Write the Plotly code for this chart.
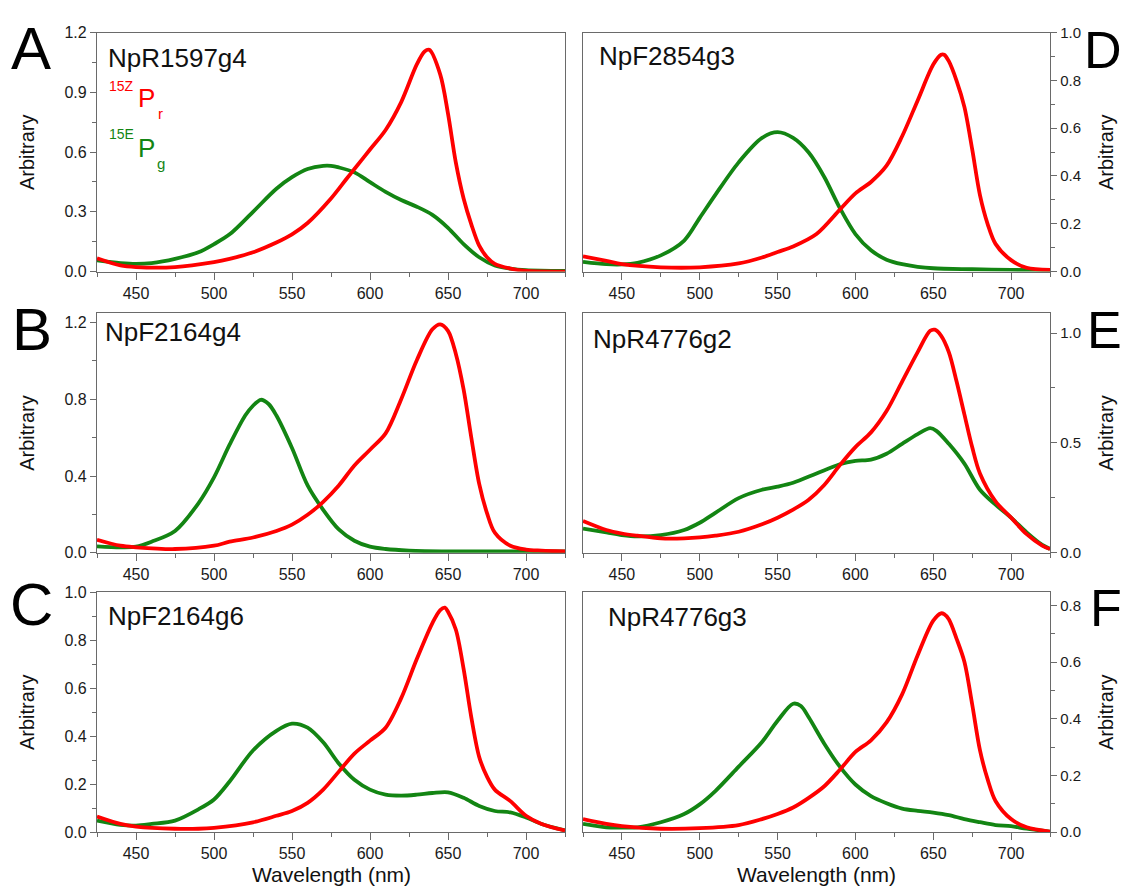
import plotly.graph_objects as go

W, H = 1123, 896
FONT = "Liberation Sans, Arial, sans-serif"
RED = "#ff0000"
GREEN = "#138513"
AXC = "#6a6a6a"

# ---------------- data ----------------
panel_names = ["NpR1597g4", "NpF2164g4", "NpF2164g6", "NpF2854g3", "NpR4776g2", "NpR4776g3"]
panel_letters = ["A", "B", "C", "D", "E", "F"]

# Panel A  NpR1597g4
A_red_x = [425, 440, 450, 475, 500, 510, 525, 540, 550, 560, 575, 585, 590, 600, 610, 620, 630, 635, 638, 645, 650, 655, 660, 665, 670, 675, 680, 690, 700, 725]
A_red_y = [0.067, 0.031, 0.023, 0.023, 0.048, 0.064, 0.097, 0.146, 0.187, 0.244, 0.367, 0.466, 0.515, 0.613, 0.711, 0.851, 1.04, 1.105, 1.113, 0.99, 0.793, 0.548, 0.367, 0.236, 0.13, 0.072, 0.039, 0.015, 0.003, 0.0]
A_grn_x = [425, 440, 450, 460, 475, 490, 500, 510, 525, 540, 550, 560, 570, 575, 580, 590, 600, 610, 620, 630, 640, 650, 660, 670, 680, 690, 700, 725]
A_grn_y = [0.056, 0.043, 0.039, 0.043, 0.064, 0.097, 0.138, 0.187, 0.30, 0.416, 0.474, 0.515, 0.531, 0.531, 0.523, 0.498, 0.449, 0.40, 0.359, 0.326, 0.285, 0.22, 0.138, 0.072, 0.031, 0.015, 0.007, 0.003]

# Panel B  NpF2164g4
B_red_x = [425, 440, 450, 475, 500, 510, 525, 540, 550, 560, 570, 580, 590, 600, 610, 620, 630, 640, 645, 650, 655, 660, 665, 670, 675, 680, 690, 700, 710, 725]
B_red_y = [0.068, 0.037, 0.029, 0.02, 0.037, 0.058, 0.08, 0.114, 0.147, 0.198, 0.266, 0.351, 0.455, 0.537, 0.622, 0.80, 1.003, 1.164, 1.19, 1.156, 1.037, 0.851, 0.597, 0.359, 0.207, 0.105, 0.037, 0.017, 0.012, 0.008]
B_grn_x = [425, 440, 450, 460, 475, 490, 500, 510, 520, 525, 530, 535, 540, 550, 560, 570, 580, 590, 600, 610, 625, 650, 700, 725]
B_grn_y = [0.034, 0.029, 0.032, 0.058, 0.114, 0.258, 0.393, 0.563, 0.715, 0.766, 0.797, 0.775, 0.715, 0.546, 0.351, 0.224, 0.122, 0.063, 0.032, 0.02, 0.012, 0.008, 0.008, 0.008]

# Panel C  NpF2164g6
C_red_x = [425, 440, 450, 475, 490, 500, 525, 540, 550, 560, 570, 580, 590, 600, 610, 620, 630, 640, 645, 648, 650, 655, 660, 665, 670, 675, 680, 690, 700, 710, 725]
C_red_y = [0.065, 0.034, 0.023, 0.014, 0.014, 0.018, 0.041, 0.068, 0.088, 0.122, 0.177, 0.252, 0.327, 0.381, 0.435, 0.558, 0.721, 0.871, 0.925, 0.935, 0.918, 0.844, 0.680, 0.476, 0.313, 0.231, 0.177, 0.129, 0.068, 0.034, 0.007]
C_grn_x = [425, 440, 450, 460, 475, 490, 500, 510, 525, 540, 550, 560, 570, 580, 590, 600, 610, 620, 630, 640, 650, 660, 670, 680, 690, 700, 710, 725]
C_grn_y = [0.048, 0.030, 0.027, 0.034, 0.048, 0.095, 0.136, 0.211, 0.34, 0.422, 0.452, 0.435, 0.374, 0.286, 0.218, 0.177, 0.156, 0.152, 0.156, 0.163, 0.166, 0.143, 0.109, 0.088, 0.082, 0.061, 0.034, 0.007]

# Panel D  NpF2854g3
D_red_x = [425, 440, 450, 475, 500, 525, 540, 550, 560, 575, 590, 600, 610, 620, 630, 640, 650, 655, 657, 660, 665, 670, 675, 680, 685, 690, 700, 710, 725]
D_red_y = [0.064, 0.045, 0.031, 0.018, 0.018, 0.034, 0.059, 0.082, 0.105, 0.157, 0.259, 0.327, 0.375, 0.443, 0.566, 0.716, 0.866, 0.907, 0.907, 0.88, 0.798, 0.689, 0.512, 0.32, 0.198, 0.116, 0.048, 0.016, 0.007]
D_grn_x = [425, 440, 450, 460, 475, 490, 500, 510, 525, 540, 550, 560, 570, 580, 590, 600, 610, 620, 630, 640, 650, 675, 700, 725]
D_grn_y = [0.041, 0.031, 0.030, 0.037, 0.068, 0.13, 0.225, 0.321, 0.457, 0.559, 0.583, 0.559, 0.498, 0.396, 0.266, 0.157, 0.089, 0.05, 0.031, 0.02, 0.014, 0.01, 0.007, 0.005]

# Panel E  NpR4776g2
E_red_x = [425, 440, 450, 460, 475, 490, 500, 510, 525, 540, 550, 560, 570, 580, 590, 600, 610, 620, 630, 640, 648, 651, 655, 660, 665, 670, 675, 680, 690, 700, 710, 720, 725]
E_red_y = [0.145, 0.104, 0.088, 0.078, 0.066, 0.066, 0.07, 0.078, 0.096, 0.13, 0.16, 0.197, 0.242, 0.309, 0.399, 0.481, 0.548, 0.645, 0.779, 0.913, 1.01, 1.015, 0.988, 0.913, 0.779, 0.63, 0.481, 0.361, 0.234, 0.16, 0.085, 0.033, 0.018]
E_grn_x = [425, 440, 450, 460, 475, 490, 500, 510, 525, 540, 550, 560, 575, 590, 600, 610, 620, 630, 640, 648, 652, 660, 670, 680, 690, 700, 710, 720, 725]
E_grn_y = [0.11, 0.093, 0.081, 0.075, 0.081, 0.104, 0.137, 0.182, 0.249, 0.287, 0.301, 0.319, 0.361, 0.403, 0.418, 0.424, 0.451, 0.496, 0.54, 0.567, 0.555, 0.496, 0.406, 0.287, 0.219, 0.16, 0.093, 0.036, 0.018]

# Panel F  NpR4776g3
F_red_x = [425, 440, 450, 475, 500, 525, 540, 550, 560, 570, 580, 590, 600, 610, 620, 630, 640, 650, 655, 657, 660, 665, 670, 675, 680, 685, 690, 700, 710, 725]
F_red_y = [0.046, 0.029, 0.021, 0.012, 0.014, 0.025, 0.046, 0.064, 0.087, 0.121, 0.162, 0.22, 0.283, 0.324, 0.387, 0.486, 0.624, 0.746, 0.772, 0.769, 0.751, 0.682, 0.601, 0.451, 0.289, 0.185, 0.11, 0.046, 0.017, 0.002]
F_grn_x = [425, 440, 450, 460, 475, 490, 500, 510, 525, 540, 550, 560, 565, 570, 580, 590, 600, 610, 620, 630, 640, 650, 660, 670, 680, 690, 700, 710, 725]
F_grn_y = [0.029, 0.017, 0.016, 0.017, 0.035, 0.064, 0.098, 0.145, 0.231, 0.318, 0.393, 0.453, 0.445, 0.405, 0.312, 0.231, 0.168, 0.127, 0.102, 0.083, 0.075, 0.069, 0.06, 0.046, 0.035, 0.025, 0.021, 0.012, 0.002]

y_ranges = [[0, 1.2], [0, 1.25], [0, 1.0], [0, 1.0], [0, 1.092], [0, 0.847]]
y_dticks = [0.3, 0.4, 0.2, 0.2, 0.5, 0.2]
x_tickvals = [450, 500, 550, 600, 650, 700]

series = [
    (A_red_x, A_red_y, A_grn_x, A_grn_y),
    (B_red_x, B_red_y, B_grn_x, B_grn_y),
    (C_red_x, C_red_y, C_grn_x, C_grn_y),
    (D_red_x, D_red_y, D_grn_x, D_grn_y),
    (E_red_x, E_red_y, E_grn_x, E_grn_y),
    (F_red_x, F_red_y, F_grn_x, F_grn_y),
]

# ---------------- layout helpers ----------------
def px(x):
    return x / W

def py(y):
    return 1 - y / H

col_dom = [[px(97), px(565)], [px(583), px(1050)]]
row_pix = [(24, 268), (310, 555), (595, 840)]
row_dom = [[py(b), py(t)] for t, b in row_pix]

fig = go.Figure()
layout = dict(
    width=W, height=H, margin=dict(l=0, r=0, t=0, b=0),
    paper_bgcolor="white", plot_bgcolor="white", showlegend=False,
    font=dict(family=FONT, color="#1a1a1a"),
)

for i in range(6):
    col = 0 if i < 3 else 1
    row = i % 3
    n = i + 1
    xa = "xaxis" if n == 1 else f"xaxis{n}"
    ya = "yaxis" if n == 1 else f"yaxis{n}"
    xr = "x" if n == 1 else f"x{n}"
    yr = "y" if n == 1 else f"y{n}"
    rx, ry, gx, gy = series[i]
    for xs, ys, c in ((gx, gy, GREEN), (rx, ry, RED)):
        fig.add_trace(go.Scatter(x=xs, y=ys, mode="lines", xaxis=xr, yaxis=yr,
                                 line=dict(color=c, width=3.8, shape="spline", smoothing=0.9),
                                 hoverinfo="skip"))
    layout[xa] = dict(
        domain=col_dom[col], anchor=yr, range=[425, 725], tickvals=x_tickvals,
        ticks="outside", ticklen=7, tickwidth=1, tickcolor=AXC,
        showline=True, linecolor=AXC, linewidth=1.3, mirror=True,
        showgrid=False, zeroline=False,
        tickfont=dict(size=16, color="#1a1a1a", family=FONT),
        minor=dict(ticks="outside", ticklen=4, tickcolor=AXC, dtick=25, tick0=425, showgrid=False),
    )
    layout[ya] = dict(
        domain=row_dom[row], anchor=xr, range=y_ranges[i], dtick=y_dticks[i], tick0=0,
        tickformat=".1f", side="left" if col == 0 else "right",
        ticks="outside", ticklen=6, tickwidth=1, tickcolor=AXC,
        showline=True, linecolor=AXC, linewidth=1.3, mirror=True,
        showgrid=False, zeroline=False,
        tickfont=dict(size=16 if col == 0 else 15, color="#1a1a1a", family=FONT),
        minor=dict(ticks="outside", ticklen=4, tickcolor=AXC, dtick=y_dticks[i] / 2, tick0=0, showgrid=False),
    )

fig.update_layout(**layout)

ann = []
def text(x, y, s, size, color="#111111", xanchor="left", angle=0, pad=1):
    ann.append(dict(x=px(x), y=py(y), xref="paper", yref="paper", text=s, showarrow=False,
                    xanchor=xanchor, yanchor="middle", textangle=angle, borderpad=pad,
                    font=dict(family=FONT, size=size, color=color)))

# panel letters
letter_pos = [(31, 40), (32, 327), (31, 608)]
for (lx, ly), L in zip(letter_pos, panel_letters[:3]):
    text(lx, ly, L, 60, "#000000", xanchor="center")
right_letter_y = [42, 328, 611]
for ly, L in zip(right_letter_y, panel_letters[3:]):
    text(1123, ly, L, 52, "#000000", xanchor="right", pad=0)

# panel names
name_pos = [(106, 50), (103, 330), (106, 619), (597, 48), (591, 337), (606, 620)]
for (nx, ny), nm in zip(name_pos, panel_names):
    text(nx, ny, nm, 26, "#111111")

# y axis titles
for t, b in row_pix:
    text(27, (t + b) / 2, "Arbitrary", 20, "#111111", xanchor="center", angle=-90)
    text(1106, (t + b) / 2, "Arbitrary", 20, "#111111", xanchor="center", angle=-90)

# x axis titles
text(331, 883, "Wavelength (nm)", 21, "#111111", xanchor="center")
text(816, 883, "Wavelength (nm)", 21, "#111111", xanchor="center")

# state labels in panel A
text(107, 79, "15Z", 14, RED)
text(136, 91, "P", 26, RED)
text(156, 107, "r", 15, RED)
text(107, 128, "15E", 14, GREEN)
text(136, 142, "P", 26, GREEN)
text(155, 158, "g", 15, GREEN)

fig.update_layout(annotations=ann)
fig.write_html("out.html")
